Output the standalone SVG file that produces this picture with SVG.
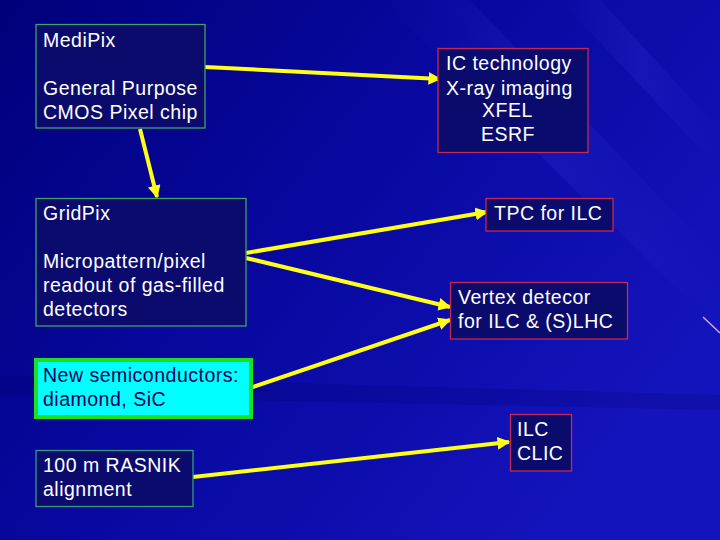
<svg xmlns="http://www.w3.org/2000/svg" width="720" height="540" viewBox="0 0 720 540">
  <defs>
    <linearGradient id="bg" x1="0" y1="0" x2="1" y2="0.6">
      <stop offset="0" stop-color="#00007a"/>
      <stop offset="0.5" stop-color="#0808a0"/>
      <stop offset="1" stop-color="#1414bc"/>
    </linearGradient>
    <linearGradient id="streak" x1="0" y1="0" x2="1" y2="0">
      <stop offset="0" stop-color="#3a3ae0" stop-opacity="0"/>
      <stop offset="0.5" stop-color="#3a3ae0" stop-opacity="0.2"/>
      <stop offset="1" stop-color="#3a3ae0" stop-opacity="0"/>
    </linearGradient>
    <marker id="ah" viewBox="0 0 10 10" refX="9" refY="5" markerWidth="3.2" markerHeight="3.2" orient="auto" markerUnits="strokeWidth">
      <path d="M0,0 L10,5 L0,10 z" fill="#ffff1a"/>
    </marker>
  </defs>
  <style>
    .box { fill: #0b0b6e; }
    .g { stroke: #3fa36a; stroke-width: 1.3; }
    .r { stroke: #c02a55; stroke-width: 1.3; }
    .t { font-family: "Liberation Sans", Arial, sans-serif; font-size: 19.5px; letter-spacing: 0.5px; fill: #ffffff; }
    .dk { fill: #00005a; }
    .conn { stroke: #ffff1a; stroke-width: 4; fill: none; marker-end: url(#ah); }
  </style>

  <rect width="720" height="540" fill="url(#bg)"/>
  <g id="background-streaks">
    <path d="M380,0 L470,0 L720,260 L720,330 Z" fill="url(#streak)"/>
    <path d="M560,0 L600,0 L720,130 L720,170 Z" fill="url(#streak)"/>
    <path d="M0,375 L720,395 L720,410 L0,395 Z" fill="#00006a" opacity="0.2"/>
    <line x1="703" y1="317" x2="720" y2="333" stroke="#c8a8f0" stroke-width="1.5"/>
  </g>

  <g id="connectors">
    <line class="conn" x1="205" y1="67" x2="440" y2="79"/>
    <line class="conn" x1="140" y1="129" x2="157" y2="197"/>
    <line class="conn" x1="246" y1="253" x2="487" y2="212"/>
    <line class="conn" x1="246" y1="258" x2="450" y2="307"/>
    <line class="conn" x1="250" y1="388" x2="450" y2="320"/>
    <line class="conn" x1="193" y1="477" x2="509" y2="442"/>
  </g>

  <g id="medipix">
    <rect class="box g" x="36" y="24.5" width="169" height="103.5"/>
    <text class="t" x="43" y="47">MediPix</text>
    <text class="t" x="43" y="95">General Purpose</text>
    <text class="t" x="43" y="119">CMOS Pixel chip</text>
  </g>

  <g id="gridpix">
    <rect class="box g" x="36" y="198.5" width="210" height="127.5"/>
    <text class="t" x="43" y="220">GridPix</text>
    <text class="t" x="43" y="268">Micropattern/pixel</text>
    <text class="t" x="43" y="292">readout of gas-filled</text>
    <text class="t" x="43" y="316">detectors</text>
  </g>

  <g id="semiconductors">
    <rect x="36" y="360" width="215" height="57" fill="#00ffff" stroke="#1ee01e" stroke-width="4"/>
    <text class="t dk" x="43" y="382">New semiconductors:</text>
    <text class="t dk" x="43" y="406">diamond, SiC</text>
  </g>

  <g id="rasnik">
    <rect class="box" x="36" y="450.5" width="157" height="56" stroke="#3a9a80" stroke-width="1.3"/>
    <text class="t" x="43" y="472">100 m RASNIK</text>
    <text class="t" x="43" y="496">alignment</text>
  </g>

  <g id="ic-tech">
    <rect class="box r" x="438" y="48.5" width="150" height="104"/>
    <text class="t" x="446" y="70">IC technology</text>
    <text class="t" x="446" y="95">X-ray imaging</text>
    <text class="t" x="482" y="117">XFEL</text>
    <text class="t" x="481" y="141">ESRF</text>
  </g>

  <g id="tpc">
    <rect class="box r" x="486" y="198.5" width="127" height="32.5"/>
    <text class="t" x="494" y="220">TPC for ILC</text>
  </g>

  <g id="vertex">
    <rect class="box r" x="450.5" y="282.5" width="177" height="56.5"/>
    <text class="t" x="458" y="304">Vertex detecor</text>
    <text class="t" x="458" y="328">for ILC &amp; (S)LHC</text>
  </g>

  <g id="ilc-clic">
    <rect class="box r" x="510.5" y="414.5" width="61" height="56.5"/>
    <text class="t" x="517" y="436">ILC</text>
    <text class="t" x="517" y="460">CLIC</text>
  </g>
</svg>
